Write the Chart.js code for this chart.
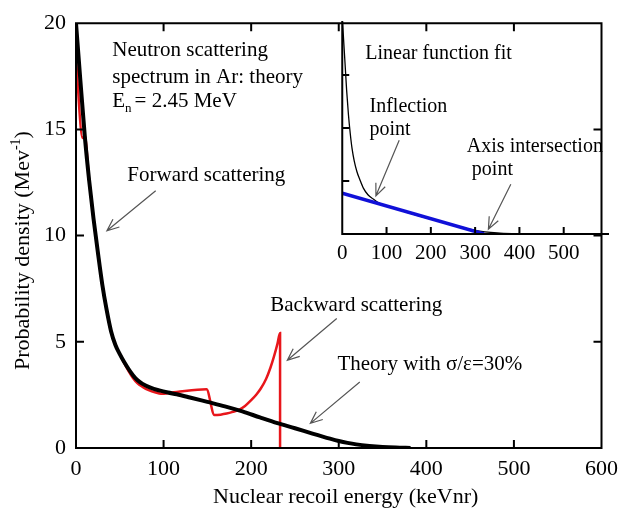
<!DOCTYPE html>
<html>
<head>
<meta charset="utf-8">
<script src="https://cdn.jsdelivr.net/npm/chart.js@4.4.1/dist/chart.umd.min.js"></script>
<style>
  html, body { margin: 0; padding: 0; background: #fff; }
  #wrap { position: relative; width: 626px; height: 508px; }
  #main { position: absolute; left: 0; top: 0; }
  #inset { position: absolute; left: 330px; top: 10px; }
</style>
</head>
<body>
<div id="wrap">
  <canvas id="main" width="626" height="508"></canvas>
  <canvas id="inset" width="290" height="262"></canvas>
</div>
<script>
const FONT = "'Liberation Serif', 'Times New Roman', serif";

// theory curve with resolution (black)
const theoryX = [0, 5, 10, 15, 20, 25, 30, 35, 40, 45, 50, 55, 60, 65, 70, 76, 85, 95, 105, 115, 130, 150, 170, 190, 210, 230, 250, 270, 290, 300, 310, 320, 335, 350, 365, 382];
const theoryY = [20, 17.3, 14.7, 12.6, 10.8, 9.2, 7.7, 6.5, 5.5, 4.85, 4.42, 4.05, 3.72, 3.43, 3.2, 3.02, 2.84, 2.71, 2.61, 2.53, 2.38, 2.17, 1.96, 1.72, 1.44, 1.17, 0.93, 0.68, 0.44, 0.33, 0.24, 0.17, 0.1, 0.05, 0.02, 0];

// raw spectrum (red)
const spectrumX = [0, 7.5, 10, 15, 20, 25, 30, 35, 40, 45, 50, 55, 60, 65, 70, 76, 83, 91, 97, 103, 109, 115, 149, 158, 165, 172, 179, 186, 193, 200, 206, 211, 217, 222, 226, 230, 233, 233];
const spectrumY = [18.3, 14.6, 14.7, 12.6, 10.8, 9.2, 7.7, 6.5, 5.5, 4.85, 4.42, 4.0, 3.62, 3.3, 3.06, 2.88, 2.72, 2.61, 2.56, 2.57, 2.61, 2.64, 2.77, 1.55, 1.57, 1.62, 1.7, 1.8, 1.98, 2.25, 2.52, 2.8, 3.25, 3.78, 4.3, 4.9, 5.41, 0];

// inset: spectrum and linear fit
const insetCurveX = [0, 1.5, 6.5, 10, 14, 18, 22, 27, 33, 40, 48, 58, 70, 80, 100, 150, 200, 250, 300, 350, 400];
const insetCurveY = [4.1, 3.88, 3.19, 2.7, 2.25, 1.9, 1.62, 1.38, 1.18, 1.02, 0.86, 0.74, 0.66, 0.6, 0.53, 0.4, 0.28, 0.17, 0.07, 0.02, 0];
const fitX = [0, 320];
const fitY = [0.77, 0];

// tick marks drawn inside the frame
const mainXMarks = [100, 200, 300, 400, 500];
const mainYMarks = [5, 10, 15];
const insetXMarks = [100, 200, 300, 400, 500];
const insetYMarks = [1, 2, 3];

function pts(xs, ys) {
  return xs.map((x, i) => ({ x: x, y: ys[i] }));
}

function drawRich(ctx, x, y, segs, center) {
  let w = 0;
  segs.forEach(s => {
    ctx.font = (s[1] || 21) + 'px ' + FONT;
    w += ctx.measureText(s[0]).width + (s[3] || 0);
  });
  let cx = center ? x - w / 2 : x;
  segs.forEach(s => {
    ctx.font = (s[1] || 21) + 'px ' + FONT;
    cx += s[3] || 0;
    ctx.fillText(s[0], cx, y + (s[2] || 0));
    cx += ctx.measureText(s[0]).width;
  });
}

function arrow(ctx, x1, y1, x2, y2) {
  const ang = Math.atan2(y2 - y1, x2 - x1), L = 13, w = 0.4;
  ctx.beginPath();
  ctx.moveTo(x1, y1);
  ctx.lineTo(x2, y2);
  ctx.moveTo(x2 - L * Math.cos(ang - w), y2 - L * Math.sin(ang - w));
  ctx.lineTo(x2, y2);
  ctx.lineTo(x2 - L * Math.cos(ang + w), y2 - L * Math.sin(ang + w));
  ctx.stroke();
}

// frame + inward ticks
function frameTicks(o) {
  return {
    id: 'frameTicks',
    afterDatasetsDraw(chart) {
      const { ctx, chartArea: a, scales: { x, y } } = chart;
      ctx.save();
      ctx.strokeStyle = '#000';
      ctx.lineWidth = 2;
      ctx.lineCap = 'square';
      ctx.beginPath();
      if (o.sides.includes('left')) { ctx.moveTo(a.left, a.top); ctx.lineTo(a.left, a.bottom); }
      if (o.sides.includes('right')) { ctx.moveTo(a.right, a.top); ctx.lineTo(a.right, a.bottom); }
      if (o.sides.includes('top')) { ctx.moveTo(a.left, a.top); ctx.lineTo(a.right, a.top); }
      if (o.sides.includes('bottom')) { ctx.moveTo(a.left, a.bottom); ctx.lineTo(a.right, a.bottom); }
      ctx.stroke();
      ctx.lineCap = 'butt';
      ctx.beginPath();
      o.xMarks.forEach(v => {
        const px = x.getPixelForValue(v);
        if (o.sides.includes('bottom')) { ctx.moveTo(px, a.bottom); ctx.lineTo(px, a.bottom - o.len); }
        if (o.sides.includes('top')) { ctx.moveTo(px, a.top); ctx.lineTo(px, a.top + o.len); }
      });
      o.yMarks.forEach(v => {
        const py = y.getPixelForValue(v);
        if (o.sides.includes('left')) { ctx.moveTo(a.left, py); ctx.lineTo(a.left + o.len, py); }
        if (o.sides.includes('right')) { ctx.moveTo(a.right, py); ctx.lineTo(a.right - o.len, py); }
      });
      ctx.stroke();
      ctx.restore();
    }
  };
}

// text notes and arrows in data coordinates
function notes(list, arrows, size) {
  return {
    id: 'notes',
    afterDraw(chart) {
      const { ctx, scales: { x, y } } = chart;
      ctx.save();
      ctx.fillStyle = '#000';
      ctx.textBaseline = 'alphabetic';
      ctx.textAlign = 'left';
      list.forEach(n => {
        const segs = n.segs || [[n.t, size]];
        drawRich(ctx, x.getPixelForValue(n.x), y.getPixelForValue(n.y), segs, false);
      });
      ctx.strokeStyle = '#555';
      ctx.lineWidth = 1.2;
      arrows.forEach(r => arrow(ctx, x.getPixelForValue(r[0]), y.getPixelForValue(r[1]),
                                 x.getPixelForValue(r[2]), y.getPixelForValue(r[3])));
      ctx.restore();
    }
  };
}

const axisTitles = {
  id: 'axisTitles',
  afterDraw(chart) {
    const { ctx, chartArea: a } = chart;
    ctx.save();
    ctx.fillStyle = '#000';
    ctx.textBaseline = 'alphabetic';
    ctx.textAlign = 'left';
    drawRich(ctx, (a.left + a.right) / 2 + 7, a.bottom + 55, [['Nuclear recoil energy (keVnr)', 22]], true);
    ctx.translate(29, (a.top + a.bottom) / 2 + 15);
    ctx.rotate(-Math.PI / 2);
    drawRich(ctx, 0, 0, [['Probability density (Mev', 22], ['-1', 14, -9], [')', 22]], true);
    ctx.restore();
  }
};

const mainNotes = [
  { x: 41.4, y: 18.45, t: 'Neutron scattering' },
  { x: 41.4, y: 17.18, t: 'spectrum in Ar: theory' },
  { x: 41.4, y: 16.06, segs: [['E', 21], ['n', 13, 5], ['= 2.45 MeV', 21, 0, 3]] },
  { x: 58.6, y: 12.58, t: 'Forward scattering' },
  { x: 221.8, y: 6.45, t: 'Backward scattering' },
  { x: 298.5, y: 3.66, t: 'Theory with \u03c3/\u03b5=30%' }
];
const mainArrows = [[91, 12.11, 35.3, 10.23], [297.7, 6.1, 241.3, 4.13], [324, 3.11, 267.6, 1.16]];

const insetNotes = [
  { x: 51.9, y: 3.31, t: 'Linear function fit' },
  { x: 61.6, y: 2.30, t: 'Inflection' },
  { x: 61.6, y: 1.87, t: 'point' },
  { x: 281.3, y: 1.55, t: 'Axis intersection' },
  { x: 292.6, y: 1.11, t: 'point' }
];
const insetArrows = [[128.6, 1.77, 76, 0.72], [380.6, 0.94, 330, 0.09]];

const tickFont = { family: FONT, size: 22 };

// note: Chart.js paints the first dataset on top
new Chart(document.getElementById('main'), {
  type: 'scatter',
  data: {
    datasets: [
      { data: pts(theoryX, theoryY), showLine: true, borderColor: '#000', borderWidth: 4, pointRadius: 0, cubicInterpolationMode: 'monotone' },
      { data: pts(spectrumX, spectrumY), showLine: true, borderColor: '#e8161b', borderWidth: 2.5, pointRadius: 0, cubicInterpolationMode: 'monotone' }
    ]
  },
  options: {
    responsive: false,
    animation: false,
    devicePixelRatio: 1,
    layout: { padding: { left: 0, top: 22, right: 18, bottom: 0 } },
    plugins: { legend: { display: false }, tooltip: { enabled: false } },
    scales: {
      x: {
        type: 'linear', min: 0, max: 600,
        afterFit: s => { s.height = 60; },
        grid: { display: false, drawTicks: false },
        border: { display: false },
        ticks: { stepSize: 100, padding: 8, color: '#000', font: tickFont, maxRotation: 0 }
      },
      y: {
        type: 'linear', min: 0, max: 20,
        afterFit: s => { s.width = 76; },
        grid: { display: false, drawTicks: false },
        border: { display: false },
        ticks: { stepSize: 5, padding: 10, color: '#000', font: tickFont }
      }
    }
  },
  plugins: [
    frameTicks({ sides: ['left', 'right', 'top', 'bottom'], xMarks: mainXMarks, yMarks: mainYMarks, len: 8 }),
    notes(mainNotes, mainArrows, 21),
    axisTitles
  ]
});

new Chart(document.getElementById('inset'), {
  type: 'scatter',
  data: {
    datasets: [
      { data: pts(fitX, fitY), showLine: true, borderColor: '#1010d8', borderWidth: 3.5, pointRadius: 0 },
      { data: pts(insetCurveX, insetCurveY), showLine: true, borderColor: '#000', borderWidth: 1.3, pointRadius: 0, cubicInterpolationMode: 'monotone' }
    ]
  },
  options: {
    responsive: false,
    animation: false,
    devicePixelRatio: 1,
    layout: { padding: { left: 12, top: 12, right: 12, bottom: 0 } },
    plugins: { legend: { display: false }, tooltip: { enabled: false } },
    scales: {
      x: {
        type: 'linear', min: 0, max: 600,
        afterFit: s => { s.height = 38; },
        grid: { display: false, drawTicks: false },
        border: { display: false },
        ticks: { stepSize: 100, padding: 7, color: '#000', font: { family: FONT, size: 21 }, maxRotation: 0,
                 callback: v => (v === 600 ? '' : v) }
      },
      y: {
        type: 'linear', min: 0, max: 4,
        afterFit: s => { s.width = 0; },
        grid: { display: false, drawTicks: false },
        border: { display: false },
        ticks: { display: false, stepSize: 1 }
      }
    }
  },
  plugins: [
    frameTicks({ sides: ['left', 'bottom'], xMarks: insetXMarks, yMarks: insetYMarks, len: 7 }),
    notes(insetNotes, insetArrows, 20)
  ]
});
</script>
</body>
</html>
